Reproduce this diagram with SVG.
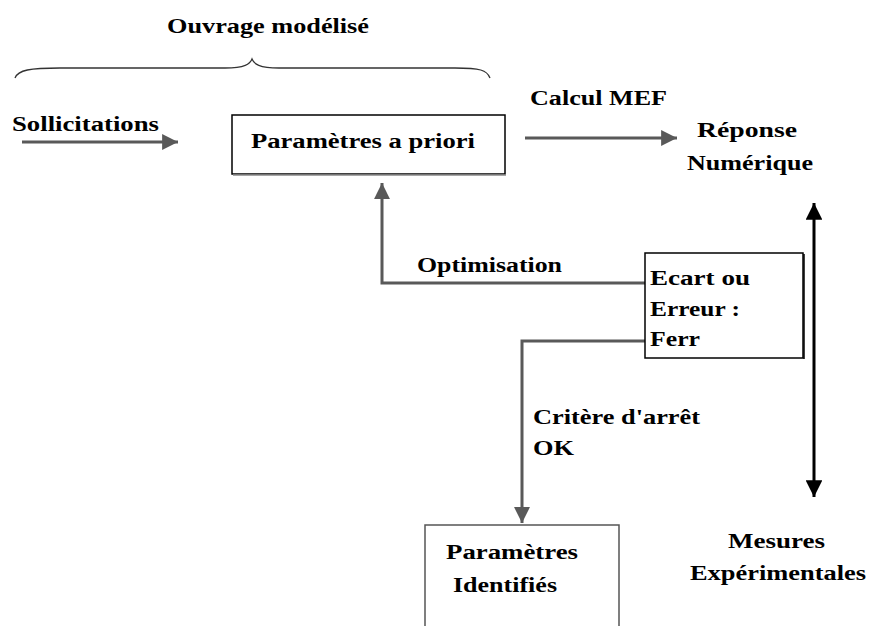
<svg xmlns="http://www.w3.org/2000/svg" width="870" height="626" viewBox="0 0 870 626" font-family="Liberation Serif, Tinos, Times New Roman, DejaVu Serif, serif">
<style>
text{font-family:'Liberation Serif','Tinos','Times New Roman','DejaVu Serif',serif;font-weight:bold;font-size:20px;fill:#000}
.g{stroke:#595959;stroke-width:3;fill:none}
.k{stroke:#000;stroke-width:3;fill:none}
.box{fill:#fff;stroke:#000;stroke-width:1.5}
</style>
<defs>
<marker id="ag" viewBox="0 0 10 10" refX="10" refY="5" markerWidth="6" markerHeight="5.3" markerUnits="strokeWidth" orient="auto"><path d="M0,0L10,5L0,10z" fill="#595959"/></marker>
<marker id="ak" viewBox="0 0 10 10" refX="10" refY="5" markerWidth="6" markerHeight="5.6" markerUnits="strokeWidth" orient="auto-start-reverse"><path d="M0,0L10,5L0,10z" fill="#000"/></marker>
</defs>
<text x="268" y="33" text-anchor="middle" textLength="202" lengthAdjust="spacingAndGlyphs">Ouvrage modélisé</text>
<path d="M15,78 C18,70 30,68 60,68 L225,68 C245,68 250,64 252,59 C254,64 259,68 279,68 L455,68 C480,68 487,70 490,78" fill="none" stroke="#333" stroke-width="1.3"/>
<g id="connectors">
<line class="g" x1="22" y1="142" x2="178" y2="142" marker-end="url(#ag)"/>
<line class="g" x1="525" y1="138" x2="677" y2="138" marker-end="url(#ag)"/>
<polyline class="g" points="645,283 382,283 382,183" marker-end="url(#ag)"/>
<polyline class="g" points="645,341 522,341 522,523" marker-end="url(#ag)"/>
<line class="k" x1="814" y1="203" x2="814" y2="497" marker-start="url(#ak)" marker-end="url(#ak)"/>
</g>
<g id="sollicitations"><text x="12" y="131" textLength="147" lengthAdjust="spacingAndGlyphs">Sollicitations</text></g>
<g id="parametres-a-priori">
<rect class="box" x="232" y="115" width="273" height="59"/>
<line x1="233" y1="175" x2="506" y2="175" stroke="#888" stroke-width="1.5"/>
<text x="251" y="148" textLength="224" lengthAdjust="spacingAndGlyphs">Paramètres a priori</text>
</g>
<g id="calcul-mef"><text x="530" y="105" textLength="137" lengthAdjust="spacingAndGlyphs">Calcul MEF</text></g>
<g id="reponse-numerique">
<text x="697" y="137" textLength="100" lengthAdjust="spacingAndGlyphs">Réponse</text>
<text x="687" y="170" textLength="126" lengthAdjust="spacingAndGlyphs">Numérique</text>
</g>
<g id="optimisation"><text x="417" y="272" textLength="145" lengthAdjust="spacingAndGlyphs">Optimisation</text></g>
<g id="ecart">
<rect class="box" x="645" y="253" width="158" height="105"/>
<line x1="804" y1="254" x2="804" y2="359" stroke="#000" stroke-width="1.5"/>
<text x="650" y="285" textLength="100" lengthAdjust="spacingAndGlyphs">Ecart ou</text>
<text x="650" y="316" textLength="90" lengthAdjust="spacingAndGlyphs">Erreur :</text>
<text x="650" y="346" textLength="50" lengthAdjust="spacingAndGlyphs">Ferr</text>
</g>
<g id="critere">
<text x="533" y="424" textLength="167" lengthAdjust="spacingAndGlyphs">Critère d'arrêt</text>
<text x="533" y="455" textLength="41" lengthAdjust="spacingAndGlyphs">OK</text>
</g>
<g id="parametres-identifies">
<rect x="425" y="525" width="194" height="110" fill="#fff" stroke="#555" stroke-width="1.5"/>
<text x="446" y="559" textLength="132" lengthAdjust="spacingAndGlyphs">Paramètres</text>
<text x="453" y="592" textLength="104" lengthAdjust="spacingAndGlyphs">Identifiés</text>
</g>
<g id="mesures">
<text x="728" y="548" textLength="97" lengthAdjust="spacingAndGlyphs">Mesures</text>
<text x="690" y="580" textLength="176" lengthAdjust="spacingAndGlyphs">Expérimentales</text>
</g>
</svg>
